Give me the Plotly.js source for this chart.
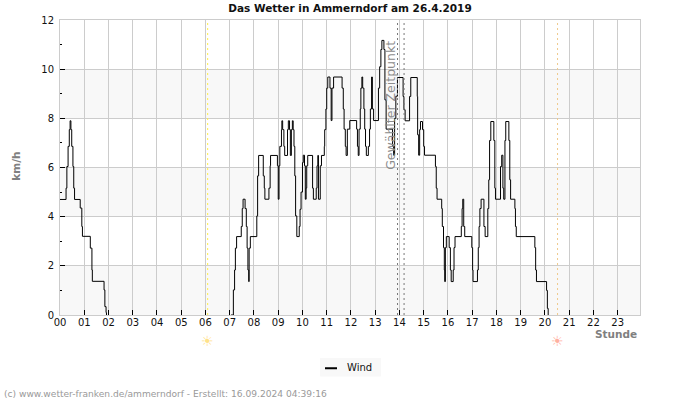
<!DOCTYPE html>
<html>
<head>
<meta charset="utf-8">
<script src="https://cdn.plot.ly/plotly-3.0.1.min.js"></script>
<style>html,body{margin:0;padding:0;background:#fff}#chart{width:700px;height:400px}</style>
</head>
<body>
<div id="chart"></div>
<script>
// Wind speed readings: minutes after midnight and km/h, held until the next reading.
const windMinutes = [
  0,15,17,20,23,25,27,29,32,34,36,50,54,55.5,75,79,80,109,111,114,115,116,
  423,429,432,434,437,448.5,451,453,458,461,463,465,467,468,471,487,489,491.5,503,505.5,507,
  517,520,521,538,540,542,544,548,549,551,554,556,563,565,568,570,572.5,575,577,579,581,583,586,
  592,594,596.5,600,602,605,607,609,610.5,613,625,627,634,636,638,639.5,644,647,654,
  655,658,660,662.6,668,671,673,677,698,701,703,706,708,711,717,734,736,738,740,743,744.5,747,749,
  752,754,756,758,763,766,768,771,773,776,788,791,794,796.5,801.5,804,807,823,825.5,828,831,835,
  849,851,854,865,868,884,885,887.5,890,892,897,900,902,
  929,931,933,944.5,946,949,951,952,953.6,956,963,966,968,973,975,977.5,993,995,996.6,999,1001.5,
  1019,1021,1022,1033,1035,1037,1039,1042,1049,1052,1058.6,1061,1063,1066,1073.5,1076,1077.6,
  1090,1093,1096,1098,1101,1103,1110.7,1113,1115,1125.6,1127,1129,1175,1177,1179,1204,1206,1208
];
const windKmh = [
  4.7,5.16,6.04,6.86,7.54,7.9,7.54,6.86,6.04,5.16,4.7,4.35,3.6,3.2,2.72,1.83,1.37,1.02,0.34,0.1,0,null,
  0,1.02,1.83,2.72,3.19,3.6,4.33,4.71,4.33,3.6,2.72,1.83,1.36,2.72,3.19,4.03,5.66,6.49,5.66,5.16,4.71,
  5.16,6.07,6.49,6.07,4.71,6.07,6.86,7.54,7.9,7.54,6.86,6.49,7.54,7.9,7.54,6.49,7.54,7.9,7.54,6.86,5.66,4.03,3.19,
  3.6,4.3,5.0,6.2,6.5,6.07,4.71,5.16,6.07,6.49,5.16,4.71,5.16,6.07,6.49,4.71,6.07,6.49,6.86,
  7.54,8.38,9.23,9.68,9.23,7.91,9.23,9.68,9.23,8.38,7.56,6.86,6.49,7.56,7.91,7.56,6.86,6.49,7.56,8.38,9.23,9.68,9.23,
  8.38,7.56,6.86,6.49,6.86,7.56,8.38,9.68,8.38,7.91,9.23,10.1,10.8,11.17,10.8,8.75,7.56,6.86,6.5,8,8.9,9.66,
  8.89,8.35,7.9,8.89,9.66,8.89,7.33,6.5,7.54,7.87,7.54,6.86,6.5,
  6.04,5.16,4.71,4.33,3.6,2.74,1.83,1.36,2.74,3.19,2.74,1.83,1.36,1.83,2.74,3.19,3.6,4.33,4.71,3.6,3.19,
  2.74,1.83,1.36,1.83,2.74,3.6,4.33,4.71,3.6,3.19,4.33,5.5,7.1,7.87,7.1,5.16,4.71,
  6.04,6.5,5.16,4.71,7.1,7.87,7.1,5.5,4.71,4.33,3.6,3.19,2.74,1.83,1.36,1.0,0.27,0
];
const hourLabels = ['00','01','02','03','04','05','06','07','08','09','10','11','12','13','14','15','16','17','18','19','20','21','22','23'];
const hourTicks = [0,1,2,3,4,5,6,7,8,9,10,11,12,13,14,15,16,17,18,19,20,21,22,23];
const bandRanges = [[0,2],[4,6],[8,10]];
const lastHour = 23.92;
const sunriseHour = 6.09;
const sunsetHour = 20.52;
const selectedHours = [13.92,14.19];

const fontFamily = '"DejaVu Sans", sans-serif';
const sparseDots = '2px,3px';

const shapes = bandRanges.map(b => ({
  type:'rect', xref:'x', yref:'y', x0:0, x1:lastHour, y0:b[0], y1:b[1],
  fillcolor:'#f8f8f8', line:{width:0}, layer:'below'
}));
shapes.push({type:'line', xref:'x', yref:'y', x0:sunriseHour, x1:sunriseHour, y0:0, y1:12,
  line:{color:'#ffee44', width:1, dash:sparseDots}});
shapes.push({type:'line', xref:'x', yref:'y', x0:sunsetHour, x1:sunsetHour, y0:0, y1:12,
  line:{color:'#efc98a', width:1, dash:sparseDots}});
selectedHours.forEach(h => shapes.push({type:'line', xref:'x', yref:'y', x0:h, x1:h, y0:0, y1:12,
  line:{color:'#777777', width:1, dash:sparseDots}}));
// Legend box with its short line sample, placed in paper coordinates under the plot.
shapes.push({type:'rect', xref:'paper', yref:'paper', x0:0.4483, x1:0.5534, y0:-0.146, y1:-0.2085,
  fillcolor:'#f8f8f8', line:{width:0}});
shapes.push({type:'line', xref:'paper', yref:'paper', x0:0.4569, x1:0.4776, y0:-0.1805, y1:-0.1805,
  line:{color:'#000000', width:2}});

const trace = {
  x: windMinutes.map(m => m / 60),
  y: windKmh,
  name: 'Wind',
  type: 'scatter',
  mode: 'lines',
  line: {color:'#000000', width:1, shape:'hv'},
  connectgaps: false
};

const layout = {
  width: 700,
  height: 400,
  margin: {l:60, r:60, t:20, b:85, pad:0},
  paper_bgcolor: '#ffffff',
  plot_bgcolor: '#ffffff',
  font: {family:fontFamily, size:10, color:'#222222'},
  title: {text:'<b>Das Wetter in Ammerndorf am 26.4.2019</b>', font:{family:fontFamily, size:10.5, color:'#111111'},
    x:0.5, xanchor:'center', y:0.979, yanchor:'middle', xref:'paper', yref:'container'},
  showlegend: false,
  xaxis: {
    range:[0,lastHour], tickmode:'array', tickvals:hourTicks, ticktext:hourLabels,
    ticks:'inside', ticklen:5, tickcolor:'#000000', tickwidth:1,
    showgrid:true, gridcolor:'#cccccc', gridwidth:1, zeroline:false,
    showline:true, linecolor:'#cccccc', linewidth:1, mirror:true,
    tickfont:{family:fontFamily, size:10, color:'#111111'}, tickangle:0, fixedrange:true,
    ticklabelstandoff:-2
  },
  yaxis: {
    range:[0,12], tickmode:'linear', tick0:0, dtick:2,
    ticks:'inside', ticklen:5, tickcolor:'#000000', tickwidth:1,
    minor:{dtick:1, ticks:'inside', ticklen:2, tickcolor:'#000000', tickwidth:1, showgrid:false},
    showgrid:true, gridcolor:'#cccccc', gridwidth:1, zeroline:false,
    showline:true, linecolor:'#cccccc', linewidth:1, mirror:true,
    tickfont:{family:fontFamily, size:10, color:'#111111'}, fixedrange:true,
    ticklabelstandoff:3
  },
  shapes: shapes,
  annotations: [
    {text:'<b>km/h</b>', xref:'paper', yref:'paper', x:-0.0765, xanchor:'center', y:0.505, yanchor:'middle', showarrow:false, textangle:-90,
      font:{family:fontFamily, size:10.5, color:'#808080'}},
    {text:'<b>Stunde</b>', xref:'paper', yref:'paper', x:0.999, xanchor:'right', y:-0.064, yanchor:'middle', showarrow:false,
      font:{family:fontFamily, size:10.5, color:'#808080'}},
    {text:'Gewählter Zeitpunkt', xref:'x', yref:'y', x:13.6, xanchor:'center', y:8.54, yanchor:'middle', showarrow:false, textangle:-90,
      font:{family:fontFamily, size:12.5, color:'#8c8c8c'}},
    {text:'☀', xref:'x', yref:'paper', x:sunriseHour, xanchor:'center', y:-0.088, yanchor:'middle', showarrow:false,
      font:{family:fontFamily, size:14, color:'#ffe28a'}},
    {text:'☀', xref:'x', yref:'paper', x:sunsetHour, xanchor:'center', y:-0.088, yanchor:'middle', showarrow:false,
      font:{family:fontFamily, size:14, color:'#ffb0a0'}},
    {text:'Wind', xref:'paper', yref:'paper', x:0.4914, xanchor:'left', y:-0.178, yanchor:'middle', showarrow:false,
      font:{family:fontFamily, size:10, color:'#111111'}},
    {text:'(c) www.wetter-franken.de/ammerndorf - Erstellt: 16.09.2024 04:39:16', xref:'paper', yref:'paper',
      x:-0.1, xanchor:'left', y:-0.268, yanchor:'middle', showarrow:false,
      font:{family:fontFamily, size:9.1, color:'#999999'}}
  ]
};

Plotly.newPlot('chart', [trace], layout, {displayModeBar:false, responsive:false, staticPlot:true});
</script>
</body>
</html>
